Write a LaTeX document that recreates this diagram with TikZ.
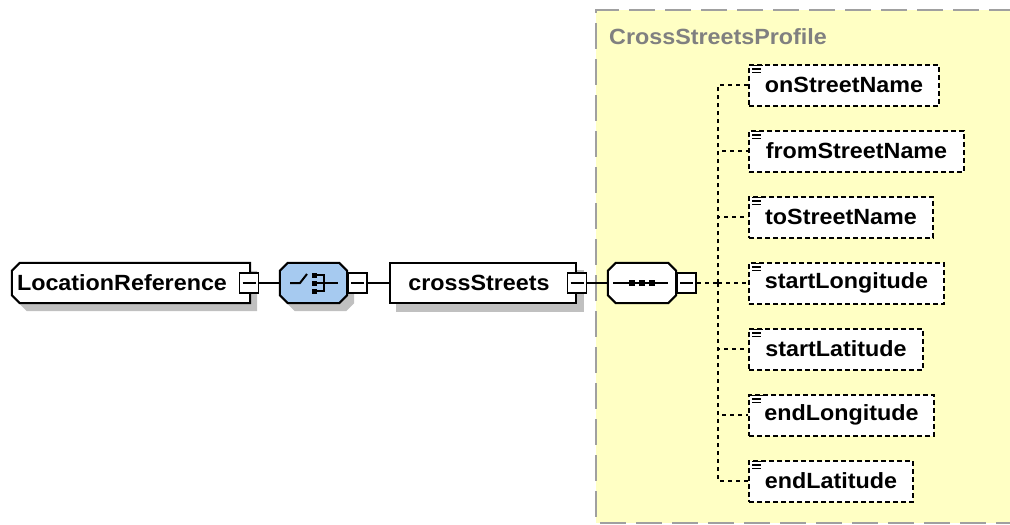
\documentclass[tikz,border=0pt]{standalone}
\usepackage{fontspec}
\setmainfont{Liberation Sans}[FakeStretch=1.06]
\usetikzlibrary{backgrounds}
\definecolor{frameyellow}{RGB}{255,255,196}
\definecolor{framegray}{RGB}{160,160,160}
\definecolor{shadowgray}{RGB}{192,192,192}
\definecolor{choiceblue}{RGB}{166,202,240}
\definecolor{titlegray}{RGB}{128,128,128}
% octagon outline: name, chamfer, dx, dy
\newcommand{\octo}[4]{([shift={(#2+#3,#4)}]#1.north west) -- ([shift={(-#2+#3,#4)}]#1.north east) -- ([shift={(#3,#2+#4)}]#1.north east) -- ([shift={(#3,-#2+#4)}]#1.south east) -- ([shift={(-#2+#3,#4)}]#1.south east) -- ([shift={(#2+#3,#4)}]#1.south west) -- ([shift={(#3,-#2+#4)}]#1.south west) -- ([shift={(#3,#2+#4)}]#1.north west) -- cycle}
% left-chamfered box outline
\newcommand{\lcham}[4]{([shift={(#2+#3,#4)}]#1.north west) -- ([shift={(#3,#4)}]#1.north east) -- ([shift={(#3,#4)}]#1.south east) -- ([shift={(#2+#3,#4)}]#1.south west) -- ([shift={(#3,-#2+#4)}]#1.south west) -- ([shift={(#3,#2+#4)}]#1.north west) -- cycle}
\begin{document}
\begin{tikzpicture}[x=1pt,y=-1pt,
  lbl/.style={font=\bfseries\fontsize{22}{24}\selectfont, inner sep=0pt},
  holder/.style={draw=none, inner sep=0pt, minimum height=40pt},
  plainbox/.style={draw, fill=white, line width=2pt, inner sep=0pt, minimum height=40pt},
  minusbox/.style={draw, fill=white, line width=1.8pt, inner sep=0pt, minimum width=19pt, minimum height=20pt,
    path picture={\draw[line width=1.8pt] ([shift={(3,0)}]path picture bounding box.west) -- ([shift={(-3,0)}]path picture bounding box.east);}},
  elem/.style={draw, fill=white, line width=2pt, dash pattern=on 5pt off 3pt, inner sep=0pt,
    minimum height=41pt, anchor=west, font=\bfseries\fontsize{22}{24}\selectfont},
  conn/.style={line width=2pt},
  dconn/.style={line width=2pt, dash pattern=on 4pt off 4pt}
]
\useasboundingbox (0,0) rectangle (1010,525);

% group frame
\fill[frameyellow] (596,10) rectangle (1015,523);
\draw[framegray, line width=2pt, dash pattern=on 26pt off 10pt] (1015,10) -- (596,10) -- (596,523) -- (1015,523);
\node[anchor=west, font=\bfseries\fontsize{22}{24}\selectfont, text=titlegray, inner sep=0pt] (title) at (609,37) {CrossStreetsProfile};

% main nodes
\node[holder, minimum width=238pt] (LR) at (131,283) {};
\node[holder, minimum width=67pt] (CH) at (313.5,283) {};
\node[plainbox, minimum width=186pt] (CS) at (483,283) {};
\node[holder, minimum width=68pt] (SQ) at (642,283) {};

% elements
\node[elem, minimum width=190pt] (e1) at (748,85) {onStreetName};
\node[elem, minimum width=215pt] (e2) at (748,151) {fromStreetName};
\node[elem, minimum width=184pt] (e3) at (748,217) {toStreetName};
\node[elem, minimum width=195pt] (e4) at (748,283) {startLongitude};
\node[elem, minimum width=174pt] (e5) at (748,349) {startLatitude};
\node[elem, minimum width=185pt] (e6) at (748,415) {endLongitude};
\node[elem, minimum width=164pt] (e7) at (748,481) {endLatitude};

\begin{scope}[on background layer]
  \fill[frameyellow] (596,10) rectangle (1015,523);
  \fill[shadowgray] \lcham{LR}{8}{7}{8};
  \fill[shadowgray] \octo{CH}{8}{7}{8};
  \fill[shadowgray] ([shift={(7,8)}]CS.north west) rectangle ([shift={(7,8)}]CS.south east);
  \fill[shadowgray] \octo{SQ}{8}{7}{8};
  \foreach \e in {e1,e2,e3,e4,e5,e6,e7}
    \fill[shadowgray] ([shift={(7,7)}]\e.north west) rectangle ([shift={(7,7)}]\e.south east);
\end{scope}

% shapes
\draw[fill=white, line width=2pt] \lcham{LR}{8}{0}{0};
\draw[fill=choiceblue, line width=2pt] \octo{CH}{8}{0}{0};
\draw[fill=white, line width=2pt] \octo{SQ}{8}{0}{0};

% labels
\node[lbl] (LRt) at ([shift={(-9,0)}]LR.center) {LocationReference};
\node[lbl] (CSt) at ([shift={(-4,0)}]CS.center) {crossStreets};

% choice icon
\draw[line width=2pt] ([shift={(-23.5,0)}]CH.center) -- ([shift={(-13.5,0)}]CH.center) -- ([shift={(-6.5,-9)}]CH.center);
\foreach \dy in {-8,0,8}
  \fill ([shift={(-1.5,\dy-2.5)}]CH.center) rectangle ([shift={(3.5,\dy+2.5)}]CH.center);
\draw[line width=2pt] ([shift={(3.5,-8)}]CH.center) -- ([shift={(10.5,-8)}]CH.center) -- ([shift={(10.5,8)}]CH.center) -- ([shift={(3.5,8)}]CH.center);
\draw[line width=2pt] ([shift={(3.5,0)}]CH.center) -- ([shift={(24.5,0)}]CH.center);

% sequence icon
\draw[line width=2pt] ([shift={(-29,0)}]SQ.center) -- ([shift={(26,0)}]SQ.center);
\foreach \dx in {-10,0,10}
  \fill ([shift={(\dx-3,-3)}]SQ.center) rectangle ([shift={(\dx+3,3)}]SQ.center);

% minus boxes
\node[minusbox] (LRm) at (249,283) {};
\node[minusbox] (CHm) at (357.5,283) {};
\node[minusbox] (CSm) at (577,283) {};
\node[minusbox] (SQm) at (686.5,283) {};

% element icons
\foreach \e in {e1,e2,e3,e4,e5,e6,e7}{
  \draw[line width=1.5pt] ([shift={(4,2)}]\e.north west) -- ++(11,0);
  \draw[line width=1.5pt] ([shift={(4,5.5)}]\e.north west) -- ++(9,0);
  \draw[line width=1.5pt] ([shift={(4,9)}]\e.north west) -- ++(9,0);
}

% connectors
\draw[conn] (LRm.east) -- (CH.west);
\draw[conn] (CHm.east) -- (CS.west);
\draw[conn] (CSm.east) -- (SQ.west);
\coordinate (bus) at (718,283);
\draw[dconn] (SQm.east) -- (bus);
\foreach \e in {e1,e2,e3,e4,e5,e6,e7}
  \draw[dconn] (bus) |- (\e.west);
\end{tikzpicture}
\end{document}
